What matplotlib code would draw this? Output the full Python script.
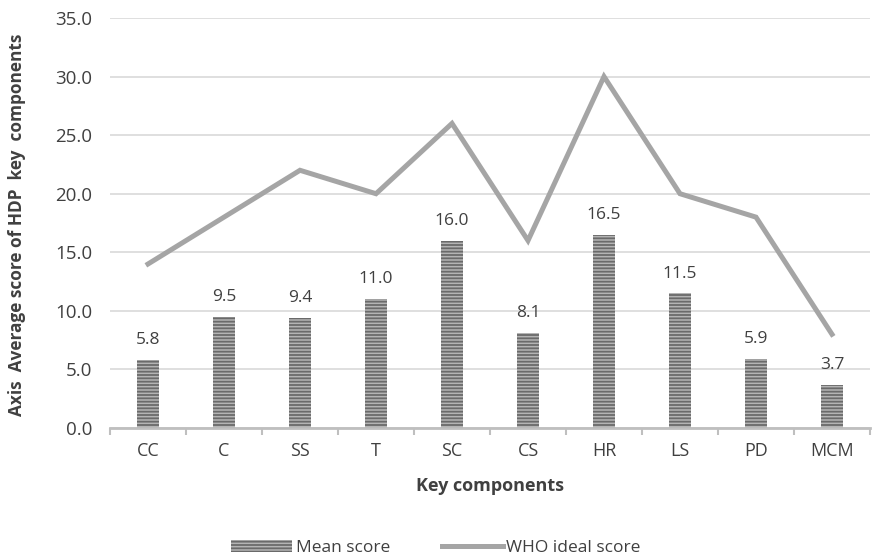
import matplotlib.pyplot as plt
import numpy as np

categories = ['CC', 'C', 'SS', 'T', 'SC', 'CS', 'HR', 'LS', 'PD', 'MCM']
mean_score = [5.8, 9.5, 9.4, 11.0, 16.0, 8.1, 16.5, 11.5, 5.9, 3.7]
who_ideal = [14, 18, 22, 20, 26, 16, 30, 20, 18, 8]

plt.rcParams['font.family'] = ['Open Sans', 'DejaVu Sans']
plt.rcParams['hatch.linewidth'] = 1.3

fig = plt.figure(figsize=(8.72, 5.59), dpi=100)
ax = fig.add_axes([110 / 872, 1 - 428 / 559, 760 / 872, 410 / 559])

x = np.arange(len(categories))
bars = ax.bar(x, mean_score, width=0.29, color='#b4b4b4', edgecolor='#6a6a6a',
              hatch='-----', linewidth=0, label='Mean score', zorder=2)
line, = ax.plot(x, who_ideal, color='#a5a5a5', linewidth=3.6, label='WHO ideal score',
                zorder=3, solid_joinstyle='miter')

# value labels above the bars
for xi, v in zip(x, mean_score):
    ax.text(xi, v + 1.0, f'{v:.1f}', ha='center', va='bottom', fontsize=12.5, color='#404040')

ax.set_xlim(-0.5, len(categories) - 0.5)
ax.set_ylim(0, 35)
ax.set_yticks(np.arange(0, 36, 5))
ax.set_yticklabels([f'{t:.1f}' for t in np.arange(0, 36, 5)])
ax.set_xticks(x)
ax.set_xticklabels(categories)
ax.set_xticks(np.arange(-0.5, len(categories), 1), minor=True)

ax.yaxis.grid(True, color='#d9d9d9', linewidth=1.2, zorder=0)
for s in ['top', 'right', 'left']:
    ax.spines[s].set_visible(False)
ax.spines['bottom'].set_color('#bfbfbf')
ax.spines['bottom'].set_linewidth(2)
ax.tick_params(axis='y', length=0, labelsize=13.5, labelcolor='#404040', pad=13)
ax.tick_params(axis='x', which='major', length=0, labelsize=13, labelcolor='#404040', pad=10)
ax.tick_params(axis='x', which='minor', length=5, width=1.5, color='#bfbfbf')

ax.set_xlabel('Key components', fontsize=13, fontweight='bold', color='#404040', labelpad=12)
ax.set_ylabel('Axis  Average score of HDP  key  components', fontsize=12.4, fontweight='bold',
              color='#404040')
ax.yaxis.set_label_coords(-0.11, 0.495)

fig.legend([bars, line], ['Mean score', 'WHO ideal score'], loc='center',
           bbox_to_anchor=(0.5, 1 - 548 / 559), ncol=2, frameon=False,
           fontsize=12.5, handlelength=3.5, columnspacing=3, labelcolor='#404040',
           handletextpad=0.2)

fig.savefig('out.png', dpi=100)
